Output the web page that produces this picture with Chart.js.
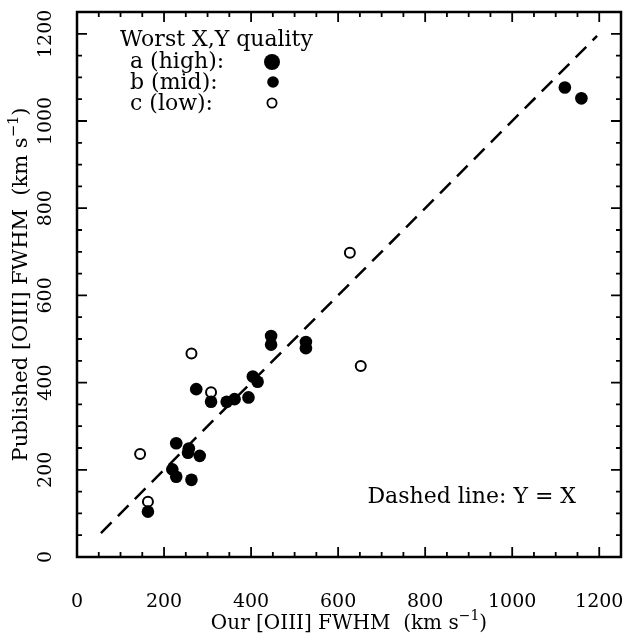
<!DOCTYPE html>
<html lang="en">
<head>
  <meta charset="UTF-8">
  <title>Published vs our [OIII] FWHM</title>
  <script src="https://cdn.jsdelivr.net/npm/chart.js"></script>
  <style>
    body { margin: 0; background: #fff; }
    #grafico { display: block; }
  </style>
</head>
<body>
  <canvas id="grafico" width="628" height="640"></canvas>

<script>
  // tick labels
  const xTickLabels = [0, 200, 400, 600, 800, 1000, 1200];
  const yTickLabels = [0, 200, 400, 600, 800, 1000, 1200];

  // b (mid) quality - filled dots
  const midX = [163, 228, 257, 255, 282, 219, 228, 263, 274, 308, 344, 362, 394, 404, 415, 446, 446, 526, 526, 1121, 1159];
  const midY = [104, 261, 249, 239, 232, 201, 184, 177, 385, 356, 356, 362, 366, 414, 402, 507, 487, 493, 479, 1077, 1052];

  // c (low) quality - open circles
  const lowX = [145, 163, 263, 308, 627, 652];
  const lowY = [236, 127, 467, 378, 698, 438];

  // Y = X line
  const lineX = [55, 1195];
  const lineY = [55, 1195];

  const FONT = '"DejaVu Serif", "Liberation Serif", serif';

  function pares(xs, ys) {
    return xs.map((x, i) => ({ x: x, y: ys[i] }));
  }

  // draws text made of pieces [texto, escala, subida], centred at 0,0
  function textoComposto(ctx, partes, tamanho) {
    let total = 0;
    partes.forEach(p => {
      ctx.font = (tamanho * p[1]) + 'px ' + FONT;
      total += ctx.measureText(p[0]).width;
    });
    let x = -total / 2;
    ctx.textAlign = 'left';
    ctx.textBaseline = 'middle';
    partes.forEach(p => {
      ctx.font = (tamanho * p[1]) + 'px ' + FONT;
      ctx.fillText(p[0], x, -p[2]);
      x += ctx.measureText(p[0]).width;
    });
  }

  const moldura = {
    id: 'moldura',
    afterDraw(chart) {
      const ctx = chart.ctx;
      const a = chart.chartArea;
      const sx = chart.scales.x;
      const sy = chart.scales.y;
      ctx.save();
      ctx.strokeStyle = '#000';
      ctx.fillStyle = '#000';

      // frame
      ctx.lineWidth = 2.5;
      ctx.strokeRect(a.left, a.top, a.right - a.left, a.bottom - a.top);

      // inward ticks on all four sides
      ctx.lineWidth = 1.8;
      for (let v = 0; v <= 1250; v += 50) {
        const len = (v % 200 === 0) ? 10 : 5;
        const px = sx.getPixelForValue(v);
        const py = sy.getPixelForValue(v);
        ctx.beginPath();
        ctx.moveTo(px, a.bottom); ctx.lineTo(px, a.bottom - len);
        ctx.moveTo(px, a.top); ctx.lineTo(px, a.top + len);
        ctx.moveTo(a.left, py); ctx.lineTo(a.left + len, py);
        ctx.moveTo(a.right, py); ctx.lineTo(a.right - len, py);
        ctx.stroke();
      }

      // tick labels
      ctx.font = '19px ' + FONT;
      ctx.textAlign = 'center';
      ctx.textBaseline = 'middle';
      xTickLabels.forEach(v => {
        ctx.fillText(String(v), sx.getPixelForValue(v), 602);
      });
      yTickLabels.forEach(v => {
        ctx.save();
        ctx.translate(46, sy.getPixelForValue(v));
        ctx.rotate(-Math.PI / 2);
        ctx.fillText(String(v), 0, 0);
        ctx.restore();
      });

      // axis titles
      ctx.save();
      ctx.translate((a.left + a.right) / 2, 624);
      textoComposto(ctx, [['Our [OIII] FWHM  (km s', 1, 0], ['\u22121', 0.7, 8], [')', 1, 0]], 20);
      ctx.restore();

      ctx.save();
      ctx.translate(22, (a.top + a.bottom) / 2);
      ctx.rotate(-Math.PI / 2);
      textoComposto(ctx, [['Published [OIII] FWHM  (km s', 1, 0], ['\u22121', 0.7, 8], [')', 1, 0]], 21);
      ctx.restore();

      // legend
      ctx.font = '22px ' + FONT;
      ctx.textAlign = 'left';
      ctx.textBaseline = 'middle';
      ctx.fillText('Worst X,Y quality', 120, 40);
      ctx.fillText('a (high):', 130, 62);
      ctx.fillText('b (mid):', 130, 83);
      ctx.fillText('c (low):', 130, 104);
      ctx.beginPath(); ctx.arc(272, 62, 8, 0, 2 * Math.PI); ctx.fill();
      ctx.beginPath(); ctx.arc(273, 82, 5.8, 0, 2 * Math.PI); ctx.fill();
      ctx.lineWidth = 1.8;
      ctx.beginPath(); ctx.arc(272, 103, 4.6, 0, 2 * Math.PI); ctx.stroke();

      // note
      ctx.textAlign = 'right';
      ctx.fillText('Dashed line: Y = X', 576, 497);

      ctx.restore();
    }
  };

  const ctx = document.getElementById('grafico');

  const grafico = new Chart(ctx, {
    type: 'scatter',
    data: {
      datasets: [
        {
          label: 'b (mid)',
          data: pares(midX, midY),
          pointRadius: 6.3,
          pointBorderWidth: 0,
          pointBackgroundColor: '#000',
          pointBorderColor: '#000',
          order: 1
        },
        {
          label: 'c (low)',
          data: pares(lowX, lowY),
          pointRadius: 5,
          pointBorderWidth: 2,
          pointBackgroundColor: '#fff',
          pointBorderColor: '#000',
          order: 2
        },
        {
          type: 'line',
          label: 'Y = X',
          data: pares(lineX, lineY),
          showLine: true,
          borderColor: '#000',
          borderWidth: 2.5,
          borderDash: [15, 9],
          pointRadius: 0,
          fill: false,
          order: 3
        }
      ]
    },
    options: {
      responsive: false,
      animation: false,
      devicePixelRatio: 1,
      layout: {
        padding: { left: 77, right: 5, top: 12, bottom: 83 }
      },
      plugins: {
        legend: { display: false },
        tooltip: { enabled: false }
      },
      scales: {
        x: { type: 'linear', display: false, min: 0, max: 1250 },
        y: { type: 'linear', display: false, min: 0, max: 1250 }
      }
    },
    plugins: [moldura]
  });
</script>
</body>
</html>
